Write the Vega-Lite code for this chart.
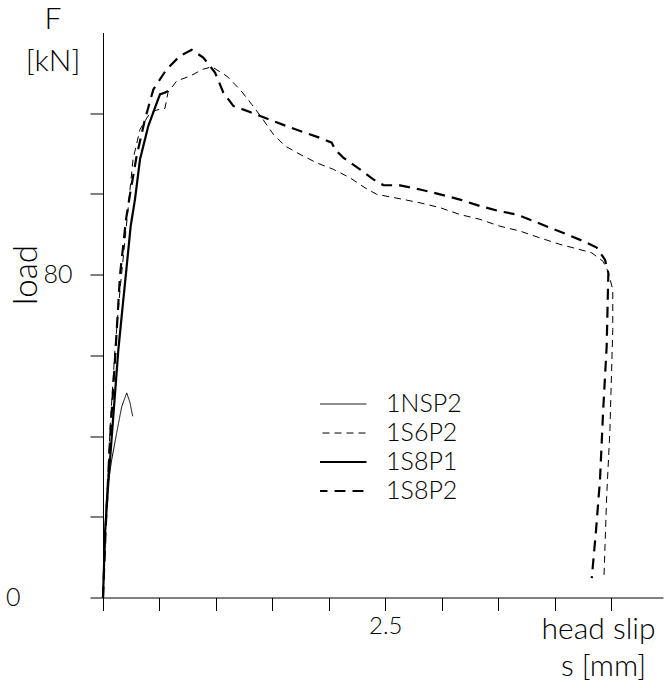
{
  "$schema": "https://vega.github.io/schema/vega-lite/v6.json",
  "width": 560,
  "height": 565,
  "autosize": {"type": "none"},
  "padding": {"left": 103, "top": 32.5, "right": 2, "bottom": 90.5},
  "background": "white",
  "title": {"text": ["F", "[kN]"], "frame": "group", "anchor": "start", "align": "center", "dx": -50, "dy": 44, "offset": 0, "font": "Lato", "fontWeight": 300, "fontSize": 30, "lineHeight": 42, "color": "black"},
  "config": {"view": {"stroke": null}, "font": "Lato"},
  "data": {"values": [
    {"series": "1NSP2", "i": 0, "s": 0, "F": 0},
    {"series": "1NSP2", "i": 1, "s": 0.018, "F": 16.0},
    {"series": "1NSP2", "i": 2, "s": 0.033, "F": 25.9},
    {"series": "1NSP2", "i": 3, "s": 0.077, "F": 34.1},
    {"series": "1NSP2", "i": 4, "s": 0.121, "F": 40.8},
    {"series": "1NSP2", "i": 5, "s": 0.166, "F": 47.3},
    {"series": "1NSP2", "i": 6, "s": 0.21, "F": 50.7},
    {"series": "1NSP2", "i": 7, "s": 0.239, "F": 48.3},
    {"series": "1NSP2", "i": 8, "s": 0.263, "F": 44.9},

    {"series": "1S8P1", "i": 0, "s": 0, "F": 0},
    {"series": "1S8P1", "i": 1, "s": 0.018, "F": 16.0},
    {"series": "1S8P1", "i": 2, "s": 0.047, "F": 28.4},
    {"series": "1S8P1", "i": 3, "s": 0.091, "F": 44.9},
    {"series": "1S8P1", "i": 4, "s": 0.136, "F": 61.4},
    {"series": "1S8P1", "i": 5, "s": 0.18, "F": 73.8},
    {"series": "1S8P1", "i": 6, "s": 0.21, "F": 82.1},
    {"series": "1S8P1", "i": 7, "s": 0.245, "F": 92.0},
    {"series": "1S8P1", "i": 8, "s": 0.283, "F": 98.6},
    {"series": "1S8P1", "i": 9, "s": 0.328, "F": 108.6},
    {"series": "1S8P1", "i": 10, "s": 0.401, "F": 116.8},
    {"series": "1S8P1", "i": 11, "s": 0.461, "F": 121.4},
    {"series": "1S8P1", "i": 12, "s": 0.505, "F": 124.7},
    {"series": "1S8P1", "i": 13, "s": 0.549, "F": 125.1},
    {"series": "1S8P1", "i": 14, "s": 0.576, "F": 125.5},

    {"series": "1S6P2", "i": 0, "s": 0, "F": 0},
    {"series": "1S6P2", "i": 1, "s": 0.027, "F": 19.2},
    {"series": "1S6P2", "i": 2, "s": 0.062, "F": 41.7},
    {"series": "1S6P2", "i": 3, "s": 0.106, "F": 61.5},
    {"series": "1S6P2", "i": 4, "s": 0.151, "F": 76.3},
    {"series": "1S6P2", "i": 5, "s": 0.204, "F": 91.2},
    {"series": "1S6P2", "i": 6, "s": 0.266, "F": 108.6},
    {"series": "1S6P2", "i": 7, "s": 0.328, "F": 116.0},
    {"series": "1S6P2", "i": 8, "s": 0.399, "F": 119.3},
    {"series": "1S6P2", "i": 9, "s": 0.443, "F": 120.5},
    {"series": "1S6P2", "i": 10, "s": 0.505, "F": 121.0},
    {"series": "1S6P2", "i": 11, "s": 0.549, "F": 121.2},
    {"series": "1S6P2", "i": 12, "s": 0.576, "F": 125.2},
    {"series": "1S6P2", "i": 13, "s": 0.653, "F": 128.0},
    {"series": "1S6P2", "i": 14, "s": 0.771, "F": 129.2},
    {"series": "1S6P2", "i": 15, "s": 0.886, "F": 130.9},
    {"series": "1S6P2", "i": 16, "s": 0.965, "F": 131.5},
    {"series": "1S6P2", "i": 17, "s": 1.096, "F": 129.2},
    {"series": "1S6P2", "i": 18, "s": 1.213, "F": 125.9},
    {"series": "1S6P2", "i": 19, "s": 1.317, "F": 122.2},
    {"series": "1S6P2", "i": 20, "s": 1.406, "F": 118.9},
    {"series": "1S6P2", "i": 21, "s": 1.508, "F": 114.8},
    {"series": "1S6P2", "i": 22, "s": 1.612, "F": 111.9},
    {"series": "1S6P2", "i": 23, "s": 1.745, "F": 109.8},
    {"series": "1S6P2", "i": 24, "s": 1.893, "F": 107.7},
    {"series": "1S6P2", "i": 25, "s": 2.04, "F": 106.1},
    {"series": "1S6P2", "i": 26, "s": 2.188, "F": 104.0},
    {"series": "1S6P2", "i": 27, "s": 2.321, "F": 101.5},
    {"series": "1S6P2", "i": 28, "s": 2.424, "F": 99.9},
    {"series": "1S6P2", "i": 29, "s": 2.631, "F": 98.8},
    {"series": "1S6P2", "i": 30, "s": 2.808, "F": 97.8},
    {"series": "1S6P2", "i": 31, "s": 2.985, "F": 96.6},
    {"series": "1S6P2", "i": 32, "s": 3.162, "F": 94.9},
    {"series": "1S6P2", "i": 33, "s": 3.339, "F": 93.7},
    {"series": "1S6P2", "i": 34, "s": 3.516, "F": 92.0},
    {"series": "1S6P2", "i": 35, "s": 3.693, "F": 90.8},
    {"series": "1S6P2", "i": 36, "s": 3.871, "F": 89.1},
    {"series": "1S6P2", "i": 37, "s": 4.048, "F": 87.5},
    {"series": "1S6P2", "i": 38, "s": 4.225, "F": 86.2},
    {"series": "1S6P2", "i": 39, "s": 4.329, "F": 85.4},
    {"series": "1S6P2", "i": 40, "s": 4.429, "F": 83.3},
    {"series": "1S6P2", "i": 41, "s": 4.473, "F": 80.8},
    {"series": "1S6P2", "i": 42, "s": 4.515, "F": 76.3},
    {"series": "1S6P2", "i": 43, "s": 4.515, "F": 66.4},
    {"series": "1S6P2", "i": 44, "s": 4.49, "F": 41.6},
    {"series": "1S6P2", "i": 45, "s": 4.461, "F": 25.0},
    {"series": "1S6P2", "i": 46, "s": 4.437, "F": 4.8},

    {"series": "1S8P2", "i": 0, "s": 0, "F": 0},
    {"series": "1S8P2", "i": 1, "s": 0.027, "F": 19.2},
    {"series": "1S8P2", "i": 2, "s": 0.062, "F": 39.0},
    {"series": "1S8P2", "i": 3, "s": 0.106, "F": 58.9},
    {"series": "1S8P2", "i": 4, "s": 0.151, "F": 80.0},
    {"series": "1S8P2", "i": 5, "s": 0.204, "F": 93.7},
    {"series": "1S8P2", "i": 6, "s": 0.239, "F": 99.9},
    {"series": "1S8P2", "i": 7, "s": 0.298, "F": 109.4},
    {"series": "1S8P2", "i": 8, "s": 0.372, "F": 118.5},
    {"series": "1S8P2", "i": 9, "s": 0.446, "F": 125.9},
    {"series": "1S8P2", "i": 10, "s": 0.564, "F": 130.9},
    {"series": "1S8P2", "i": 11, "s": 0.682, "F": 134.2},
    {"series": "1S8P2", "i": 12, "s": 0.786, "F": 135.7},
    {"series": "1S8P2", "i": 13, "s": 0.888, "F": 133.8},
    {"series": "1S8P2", "i": 14, "s": 0.992, "F": 130.1},
    {"series": "1S8P2", "i": 15, "s": 1.066, "F": 125.1},
    {"series": "1S8P2", "i": 16, "s": 1.154, "F": 121.8},
    {"series": "1S8P2", "i": 17, "s": 1.302, "F": 120.3},
    {"series": "1S8P2", "i": 18, "s": 1.45, "F": 118.7},
    {"series": "1S8P2", "i": 19, "s": 1.627, "F": 116.8},
    {"series": "1S8P2", "i": 20, "s": 1.774, "F": 115.3},
    {"series": "1S8P2", "i": 21, "s": 1.922, "F": 113.9},
    {"series": "1S8P2", "i": 22, "s": 2.026, "F": 112.7},
    {"series": "1S8P2", "i": 23, "s": 2.055, "F": 111.0},
    {"series": "1S8P2", "i": 24, "s": 2.128, "F": 109.0},
    {"series": "1S8P2", "i": 25, "s": 2.276, "F": 106.1},
    {"series": "1S8P2", "i": 26, "s": 2.394, "F": 103.6},
    {"series": "1S8P2", "i": 27, "s": 2.483, "F": 102.2},
    {"series": "1S8P2", "i": 28, "s": 2.631, "F": 102.1},
    {"series": "1S8P2", "i": 29, "s": 2.808, "F": 101.1},
    {"series": "1S8P2", "i": 30, "s": 2.985, "F": 99.9},
    {"series": "1S8P2", "i": 31, "s": 3.162, "F": 98.6},
    {"series": "1S8P2", "i": 32, "s": 3.339, "F": 97.0},
    {"series": "1S8P2", "i": 33, "s": 3.516, "F": 95.7},
    {"series": "1S8P2", "i": 34, "s": 3.664, "F": 94.9},
    {"series": "1S8P2", "i": 35, "s": 3.811, "F": 93.3},
    {"series": "1S8P2", "i": 36, "s": 3.959, "F": 91.6},
    {"series": "1S8P2", "i": 37, "s": 4.107, "F": 90.0},
    {"series": "1S8P2", "i": 38, "s": 4.254, "F": 88.3},
    {"series": "1S8P2", "i": 39, "s": 4.373, "F": 86.7},
    {"series": "1S8P2", "i": 40, "s": 4.446, "F": 83.7},
    {"series": "1S8P2", "i": 41, "s": 4.476, "F": 80.4},
    {"series": "1S8P2", "i": 42, "s": 4.461, "F": 62.2},
    {"series": "1S8P2", "i": 43, "s": 4.429, "F": 45.8},
    {"series": "1S8P2", "i": 44, "s": 4.402, "F": 29.2},
    {"series": "1S8P2", "i": 45, "s": 4.367, "F": 16.7},
    {"series": "1S8P2", "i": 46, "s": 4.329, "F": 4.8}
  ]},
  "encoding": {
    "x": {
      "field": "s", "type": "quantitative",
      "scale": {"domain": [0, 4.96], "nice": false, "zero": false},
      "axis": {
        "values": [0, 0.5, 1, 1.5, 2, 2.5, 3, 3.5, 4, 4.5],
        "labelExpr": "datum.value == 2.5 ? '2.5' : (datum.value == 4.5 ? 'head slip' : '')",
        "labelOffset": {"condition": {"test": "datum.value == 4.5", "value": -13}, "value": 0},
        "labelFontSize": {"condition": {"test": "datum.value == 4.5", "value": 30}, "value": 24},
        "labelFont": "Lato", "labelFontWeight": 300, "labelColor": "black",
        "labelPadding": 4, "labelFlush": false, "labelOverlap": false, "labelBound": false,
        "tickSize": 13, "tickColor": "black", "domainColor": "black", "grid": false,
        "title": "s [mm]", "titleX": 500, "titleY": 69, "titleAlign": "center", "titleBaseline": "middle",
        "titleFont": "Lato", "titleFontWeight": 300, "titleFontSize": 30, "titleColor": "black"
      }
    },
    "y": {
      "field": "F", "type": "quantitative",
      "scale": {"domain": [0, 140], "nice": false},
      "axis": {
        "values": [0, 20, 40, 60, 80, 100, 120],
        "labelExpr": "datum.value == 0 || datum.value == 80 ? datum.label : ''",
        "labelPadding": {"condition": {"test": "datum.value == 0", "value": 70}, "value": 18},
        "labelFont": "Lato", "labelFontWeight": 300, "labelFontSize": 25, "labelColor": "black",
        "labelFlush": false, "labelOverlap": false, "labelBound": false,
        "tickSize": 13, "tickColor": "black", "domainColor": "black", "grid": false,
        "title": "load", "titleAngle": -90, "titleX": -77, "titleY": 242, "titleAlign": "center", "titleBaseline": "middle",
        "titleFont": "Lato", "titleFontWeight": 300, "titleFontSize": 33, "titleColor": "black"
      }
    },
    "detail": {"field": "series"},
    "order": {"field": "i", "type": "quantitative"},
    "strokeDash": {
      "field": "series", "type": "nominal",
      "scale": {"domain": ["1NSP2", "1S6P2", "1S8P1", "1S8P2"], "range": [[1, 0], [7, 5], [1, 0], [11, 7]]},
      "legend": {"orient": "none", "legendX": 217, "legendY": 357, "title": null, "symbolType": "stroke", "symbolSize": 4624, "symbolStrokeColor": "black", "labelFont": "Lato", "labelFontWeight": 300, "labelFontSize": 25, "labelColor": "black", "labelOffset": 41, "rowPadding": 0, "clipHeight": 29,
        "encode": {"symbols": {"update": {"strokeWidth": {"signal": "datum.value == '1S8P1' || datum.value == '1S8P2' ? 2.2 : 1"}}}}}
    }
  },
  "layer": [
    {
      "transform": [{"filter": {"field": "series", "oneOf": ["1NSP2", "1S6P2"]}}],
      "mark": {"type": "line", "color": "black", "strokeWidth": 1, "clip": false}
    },
    {
      "transform": [{"filter": {"field": "series", "oneOf": ["1S8P1", "1S8P2"]}}],
      "mark": {"type": "line", "color": "black", "strokeWidth": 2.2, "clip": false}
    }
  ]
}
